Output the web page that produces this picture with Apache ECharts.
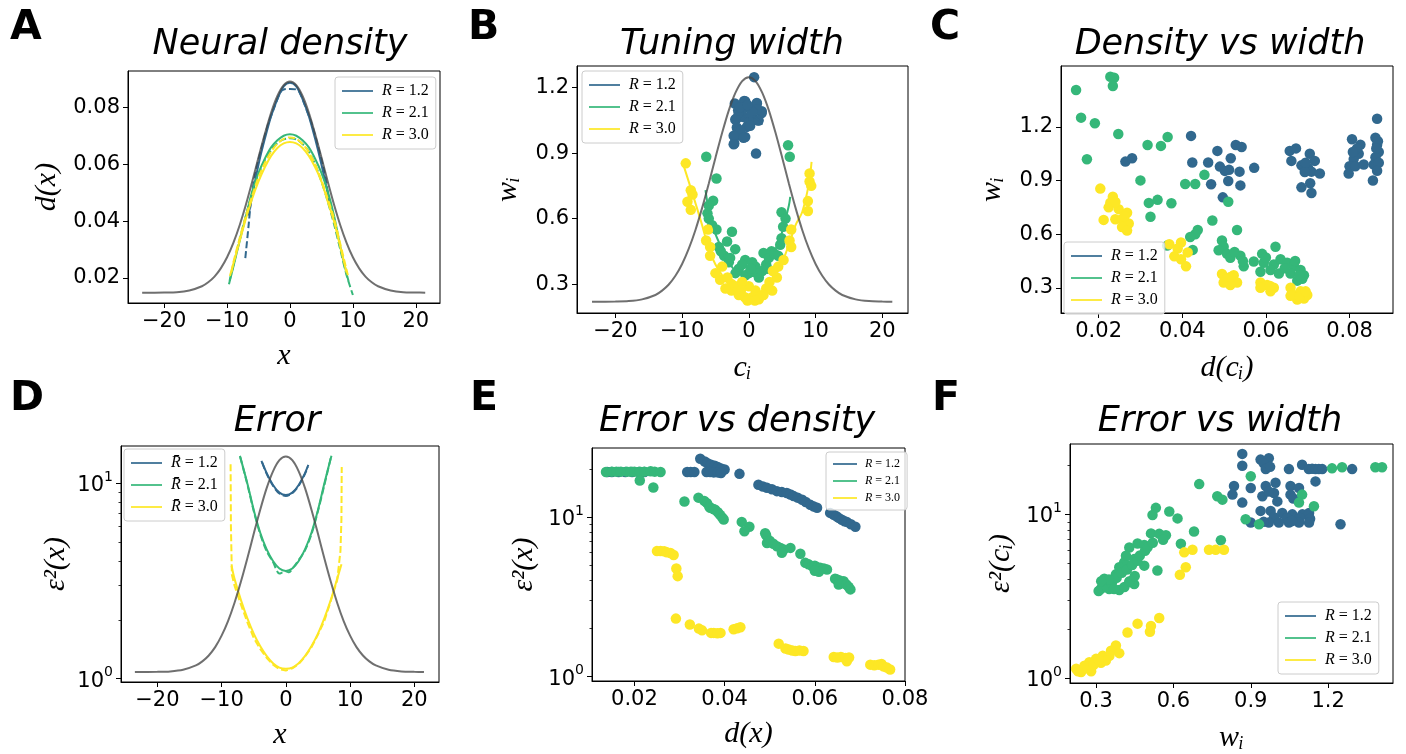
<!DOCTYPE html>
<html><head><meta charset="utf-8">
<script src="https://cdn.jsdelivr.net/npm/echarts@6/dist/echarts.min.js"></script>
<style>html,body{margin:0;padding:0;background:#fff}#c{width:1406px;height:754px}</style>
</head><body><div id="c"></div>
<script>
// ---------------- data ----------------
const rValues = ['1.2', '2.1', '3.0'];
const colors = ['#31688e', '#35b779', '#fde725'];

const priorX = [-23.5,-20,-18,-16,-14,-13,-12,-11,-10,-9,-8,-7,-6,-5,-4,-3,-2,-1,0,1,2,3,4,5,6,7,8,9,10,11,12,13,14,16,18,20,21.5];
const priorA = [0.0148,0.0149,0.0150,0.0156,0.0171,0.0185,0.0205,0.0234,0.0273,0.0324,0.0386,0.0459,0.0540,0.0625,0.0707,0.0782,0.0841,0.0879,0.0892,0.0879,0.0841,0.0782,0.0707,0.0625,0.0540,0.0459,0.0386,0.0324,0.0273,0.0234,0.0205,0.0185,0.0171,0.0156,0.0150,0.0149,0.0148];
const priorB = [0.219,0.220,0.222,0.230,0.250,0.270,0.298,0.338,0.392,0.462,0.548,0.649,0.761,0.879,0.993,1.096,1.177,1.230,1.248,1.230,1.177,1.096,0.993,0.879,0.761,0.649,0.548,0.462,0.392,0.338,0.298,0.270,0.250,0.230,0.222,0.220,0.219];
const priorD = [1.081,1.084,1.090,1.111,1.169,1.226,1.315,1.45,1.66,1.97,2.44,3.13,4.12,5.51,7.30,9.41,11.50,13.11,13.71,13.11,11.50,9.41,7.30,5.51,4.12,3.13,2.44,1.97,1.66,1.45,1.315,1.226,1.169,1.111,1.090,1.084,1.081];

// tick labels
const xTicksX = [-20,-10,0,10,20];
const yTicksA = [0.02,0.04,0.06,0.08];
const yTicksW = [0.3,0.6,0.9,1.2];
const xTicksC = [0.02,0.04,0.06,0.08];
const xTicksE = [0.02,0.04,0.06,0.08];
const xTicksF = [0.3,0.6,0.9,1.2];
const logTicks = [1,10];
const logMinor = [2,3,4,5,6,7,8,9,20];

// Panel A: neural density (solid = simulation, dashed = theory)
const aSolid12 = [[-6.6,0.042],[-6,0.049],[-5,0.060],[-4,0.069],[-3,0.077],[-2,0.083],[-1,0.0875],[0,0.0888],[1,0.0875],[2,0.083],[3,0.077],[4,0.069],[5,0.060],[6,0.050],[6.5,0.045]];
const aDash12 = [[-7.1,0.027],[-6.6,0.038],[-6.2,0.047],[-5.5,0.057],[-4.5,0.066],[-3.5,0.074],[-2.5,0.080],[-1.5,0.0855],[-1,0.0864],[0,0.0866],[1,0.0864],[1.5,0.0855],[2.5,0.080],[3.5,0.074],[4.5,0.066],[5.5,0.057],[6.2,0.047]];
const aSolid21 = [[-9.7,0.0178],[-9,0.024],[-8,0.033],[-7,0.0418],[-6,0.0505],[-5,0.057],[-4,0.062],[-3,0.066],[-2,0.0685],[-1,0.0701],[0,0.0706],[1,0.0701],[2,0.0685],[3,0.066],[4,0.062],[5,0.057],[6,0.0505],[7,0.042],[8,0.031],[9,0.0215],[9.3,0.019]];
const aDash21 = [[-9.6,0.019],[-9,0.0245],[-8,0.0335],[-7,0.042],[-6,0.050],[-5,0.0565],[-4,0.0615],[-3,0.065],[-2,0.0675],[-1,0.0688],[0,0.0692],[1,0.0688],[2,0.0672],[3,0.0645],[4,0.060],[5,0.054],[6,0.047],[7,0.039],[8,0.030],[9,0.021],[10,0.014]];
const aSolid30 = [[-9.55,0.0207],[-9,0.025],[-8,0.033],[-7,0.041],[-6,0.048],[-5,0.054],[-4,0.059],[-3,0.063],[-2,0.0658],[-1,0.0674],[0,0.0679],[1,0.0674],[2,0.0658],[3,0.063],[4,0.059],[5,0.054],[6,0.047],[7,0.040],[8,0.031],[9,0.0219]];
const aDash30 = [[-9.3,0.022],[-9,0.0255],[-8,0.034],[-7,0.042],[-6,0.049],[-5,0.0555],[-4,0.0605],[-3,0.0645],[-2,0.0673],[-1,0.069],[0,0.0695],[1,0.069],[2,0.0672],[3,0.0643],[4,0.060],[5,0.0545],[6,0.048],[7,0.041],[8,0.032],[9.2,0.021]];

// Panel B: tuning width vs centre
const bLine12 = [[-2.3,1.0],[-1.5,1.04],[-0.5,1.07],[0.5,1.07],[1.5,1.05],[2.0,1.03]];
const bLine21 = [[-6.5,0.73],[-6,0.64],[-5,0.53],[-4,0.46],[-3,0.40],[-2,0.36],[-1,0.34],[0,0.335],[1,0.34],[2,0.36],[3,0.40],[4,0.46],[5,0.54],[6,0.66],[6.2,0.70]];
const bLine30 = [[-9.9,0.855],[-8.5,0.72],[-7,0.57],[-6,0.46],[-5,0.39],[-4,0.34],[-3,0.30],[-2,0.27],[-1,0.255],[0,0.25],[1,0.255],[2,0.27],[3,0.30],[4,0.34],[5,0.40],[6,0.48],[7,0.57],[8,0.63],[9,0.76],[9.4,0.86]];
const bDots12 = [[0.79,1.248],[1.08,0.898],[-2.18,0.944],[-2.1,0.974],[-0.55,0.974],[-1.8,1.017],[-0.3,1.02],[-1.9,1.058],[-0.8,1.065],[0.44,1.072],[1.43,1.049],[1.93,1.092],[1.2,1.127],[-0.7,1.139],[-2.1,1.127],[-1.6,1.096],[0.1,1.104],[-1.0,1.10],[0.0,1.04],[-1.3,1.005],[-0.55,1.138],[1.2,1.13],[1.93,1.084],[-1.53,1.084],[0.7,1.054],[-2.03,1.054],[0.2,1.025],[-0.8,0.97],[-2.27,0.98],[-2.27,0.94],[1.2,1.10],[-1.3,1.11],[1.43,1.05],[0.5,1.09],[-0.2,1.12]];
const bDots21 = [[-6.38,0.883],[5.88,0.936],[6.13,0.883],[-4.85,0.784],[-5.35,0.682],[-6.2,0.624],[-6.0,0.60],[4.9,0.629],[5.14,0.563],[-2.53,0.540],[-4.85,0.55],[4.9,0.51],[4.7,0.48],[-3.26,0.495],[-4.5,0.47],[-2.04,0.46],[2.2,0.442],[3.4,0.45],[4.4,0.43],[-3.7,0.43],[-0.55,0.41],[1.0,0.38],[2.6,0.39],[-1.5,0.37],[0,0.35],[1.5,0.33],[-2,0.35],[-3,0.40],[-1,0.39],[0.5,0.40],[2,0.36],[3,0.42],[-4.2,0.45],[-5.5,0.57],[-6,0.66],[5.5,0.60],[3.8,0.44],[-2.8,0.42],[-0.5,0.34],[1.2,0.35],[2.8,0.37],[0.3,0.37]];
const bDots30 = [[-9.45,0.853],[-8.7,0.73],[-8.45,0.71],[-9.2,0.677],[-8.7,0.64],[9.1,0.807],[9.1,0.77],[9.35,0.75],[8.85,0.68],[8.85,0.635],[-6.1,0.55],[-6.4,0.50],[-5.8,0.47],[-5.8,0.43],[6.35,0.55],[6.1,0.50],[6.35,0.47],[-4.0,0.38],[-4.3,0.32],[-2.6,0.30],[4.4,0.38],[4.2,0.33],[2.6,0.28],[-2.6,0.27],[-1.5,0.25],[-0.6,0.24],[0.5,0.24],[1.5,0.23],[-2,0.29],[0,0.29],[1,0.27],[-1,0.31],[3.1,0.31],[3.6,0.36],[-5,0.35],[-3.2,0.33],[-0.2,0.225],[0.9,0.225],[2.2,0.25],[-3.5,0.28],[5.2,0.41],[-1.2,0.27],[3.5,0.27]];

// Panel C: density vs width
const cDots12 = [[0.0264,1.006],[0.0280,1.025],[0.0421,1.150],[0.0424,1.001],[0.0462,1.001],[0.0484,1.066],[0.0516,1.025],[0.0528,1.099],[0.0542,1.088],[0.0490,0.978],[0.0502,0.954],[0.0537,0.950],[0.0510,0.898],[0.0469,0.879],[0.0539,0.873],[0.0497,0.806],[0.0572,0.971],[0.0657,1.066],[0.0672,1.080],[0.0661,1.010],[0.0685,0.985],[0.0705,1.050],[0.0717,1.010],[0.0701,0.970],[0.0709,0.950],[0.0729,0.940],[0.0685,0.862],[0.0706,0.885],[0.0709,0.830],[0.0693,0.948],[0.0806,1.131],[0.0826,1.100],[0.0822,1.050],[0.0810,1.020],[0.0800,0.980],[0.0798,0.940],[0.0814,0.980],[0.0834,0.990],[0.0866,1.246],[0.0862,1.140],[0.0866,1.100],[0.0870,1.060],[0.0862,1.030],[0.0858,0.990],[0.0870,1.000],[0.0856,0.900],[0.0866,0.955],[0.0818,1.08],[0.0808,1.06],[0.0868,1.12],[0.0864,1.08],[0.0695,1.00],[0.0512,0.96]];
const cDots21 = [[0.0146,1.407],[0.0228,1.481],[0.0237,1.475],[0.0234,1.429],[0.0158,1.252],[0.0191,1.221],[0.0247,1.161],[0.0172,1.019],[0.0317,1.099],[0.0349,1.094],[0.0365,1.144],[0.0300,0.901],[0.0320,0.775],[0.0341,0.792],[0.0374,0.773],[0.0324,0.698],[0.0407,0.881],[0.0431,0.881],[0.0453,0.932],[0.0510,0.781],[0.0472,0.677],[0.0531,0.623],[0.0437,0.623],[0.0431,0.600],[0.0419,0.584],[0.0364,0.536],[0.0425,0.512],[0.0495,0.565],[0.0499,0.530],[0.0487,0.510],[0.0507,0.490],[0.0515,0.468],[0.0539,0.480],[0.0547,0.420],[0.0571,0.447],[0.0591,0.490],[0.0595,0.440],[0.0587,0.390],[0.0623,0.530],[0.0619,0.430],[0.0635,0.460],[0.0651,0.440],[0.0667,0.420],[0.0659,0.380],[0.0683,0.400],[0.0687,0.350],[0.0675,0.340],[0.0631,0.380],[0.0611,0.400],[0.0691,0.370],[0.0525,0.50],[0.0545,0.45],[0.0600,0.47],[0.0645,0.41],[0.0670,0.45],[0.0680,0.37]];
const cDots30 = [[0.0204,0.855],[0.0234,0.810],[0.0228,0.776],[0.0224,0.750],[0.0248,0.740],[0.0268,0.720],[0.0240,0.684],[0.0212,0.680],[0.0256,0.684],[0.0272,0.660],[0.0256,0.640],[0.0268,0.620],[0.0369,0.544],[0.0397,0.553],[0.0389,0.520],[0.0413,0.498],[0.0381,0.476],[0.0397,0.460],[0.0409,0.420],[0.0495,0.377],[0.0507,0.350],[0.0523,0.370],[0.0499,0.330],[0.0531,0.330],[0.0515,0.315],[0.0587,0.330],[0.0603,0.315],[0.0619,0.300],[0.0587,0.300],[0.0611,0.280],[0.0659,0.300],[0.0667,0.260],[0.0683,0.280],[0.0691,0.240],[0.0675,0.235],[0.0659,0.255],[0.0699,0.260],[0.0240,0.78],[0.0262,0.70],[0.0515,0.36],[0.0610,0.31],[0.0680,0.25],[0.0695,0.28]];

// Panel D: error along x
const dSolid12 = [[-3.8,13.0],[-3,11.3],[-2,9.8],[-1,8.95],[0,8.7],[1,8.95],[2,9.8],[3,11.3],[3.5,12.4]];
const dDash12 = [[-3.7,12.8],[-3,11.2],[-2,9.7],[-1,8.85],[0,8.6],[1,8.9],[2,9.7],[3,11.2],[3.4,12.1]];
const dSolid21 = [[-7.15,13.8],[-6,10.0],[-5,7.3],[-4,5.6],[-3,4.6],[-2,4.0],[-1,3.66],[0,3.56],[1,3.66],[2,4.0],[3,4.6],[4,5.6],[5,7.3],[6,10.0],[7.1,13.8]];
const dDash21 = [[-7.1,13.6],[-6,9.9],[-5,7.2],[-4,5.5],[-3,4.5],[-2,3.95],[-1,3.45],[-0.5,3.5],[0,3.55],[0.5,3.5],[1,3.65],[2,4.05],[3,4.55],[4,5.5],[5,7.2],[6,9.8],[7,13.5]];
const dSolid30 = [[-8.45,3.78],[-8,3.25],[-7,2.53],[-6,2.04],[-5,1.70],[-4,1.47],[-3,1.31],[-2,1.20],[-1,1.14],[0,1.125],[1,1.14],[2,1.20],[3,1.31],[4,1.47],[5,1.70],[6,2.04],[7,2.53],[8,3.25],[8.66,3.85]];
const dDash30 = [[-8.6,12.5],[-8.55,6.0],[-8.4,3.4],[-8,3.0],[-7,2.4],[-6,1.95],[-5,1.62],[-4,1.42],[-3,1.28],[-2,1.18],[-1,1.12],[0,1.10],[1,1.13],[2,1.19],[3,1.30],[4,1.45],[5,1.68],[6,1.98],[7,2.5],[8,3.2],[8.5,4.5],[8.65,6.5],[8.7,12.1]];

// Panel E: error vs density
const eDots12 = [[0.0140,19.1],[0.0150,19.1],[0.0165,19.1],[0.0180,19.1],[0.0195,19.1],[0.0210,19.1],[0.0222,19.1],[0.0317,19.1],[0.0325,19.1],[0.0333,19.1],[0.0346,23.1],[0.0356,22.2],[0.0362,21.7],[0.0370,21.2],[0.0378,20.9],[0.0385,20.5],[0.0392,20.1],[0.0400,19.8],[0.0360,19.1],[0.0368,19.1],[0.0376,19.0],[0.0385,19.0],[0.0392,18.8],[0.0433,18.6],[0.0475,15.9],[0.0485,15.5],[0.0494,15.2],[0.0505,14.9],[0.0516,14.5],[0.0527,14.3],[0.0538,14.1],[0.0546,13.8],[0.0553,13.5],[0.0562,13.2],[0.0572,12.8],[0.0580,12.4],[0.0590,11.9],[0.0598,11.6],[0.0605,11.4],[0.0634,10.6],[0.0642,10.3],[0.0648,10.1],[0.0653,9.86],[0.0660,9.6],[0.0666,9.4],[0.0671,9.31],[0.0680,9.0],[0.0690,8.67]];
const eDots21 = [[0.0137,19.1],[0.0150,19.2],[0.0160,19.2],[0.0170,19.2],[0.0183,19.2],[0.0192,19.2],[0.0200,19.2],[0.0212,19.2],[0.0222,19.2],[0.0236,19.3],[0.0245,19.2],[0.0258,19.1],[0.0212,16.9],[0.0242,15.3],[0.0311,12.5],[0.0342,13.2],[0.0355,12.6],[0.0361,12.2],[0.0366,11.6],[0.0368,11.4],[0.0375,11.2],[0.0379,11.1],[0.0385,10.7],[0.0390,10.3],[0.0395,9.9],[0.0398,9.63],[0.0438,9.31],[0.0455,8.67],[0.0444,8.14],[0.0490,7.9],[0.0492,7.67],[0.0494,6.87],[0.0500,7.1],[0.0508,6.8],[0.0516,6.55],[0.0524,6.4],[0.0531,6.25],[0.0527,5.96],[0.0546,6.4],[0.0568,5.88],[0.0579,5.16],[0.0586,5.05],[0.0594,4.92],[0.0600,4.95],[0.0605,4.85],[0.0612,4.80],[0.0620,4.75],[0.0627,4.69],[0.0609,4.53],[0.0600,4.6],[0.0645,4.1],[0.0649,4.06],[0.0655,4.0],[0.0664,3.96],[0.0653,3.78],[0.0660,3.85],[0.0670,3.78],[0.0675,3.65],[0.0679,3.52]];
const eDots30 = [[0.0250,6.11],[0.0258,6.11],[0.0266,6.1],[0.0272,6.0],[0.0280,5.95],[0.0287,5.77],[0.0293,4.76],[0.0296,4.26],[0.0292,2.31],[0.0323,2.12],[0.0343,2.00],[0.0350,1.95],[0.0370,1.88],[0.0376,1.88],[0.0384,1.87],[0.0391,1.88],[0.0420,1.98],[0.0428,2.01],[0.0435,2.04],[0.0520,1.61],[0.0535,1.50],[0.0542,1.48],[0.0550,1.46],[0.0557,1.45],[0.0566,1.46],[0.0575,1.45],[0.0642,1.33],[0.0650,1.32],[0.0658,1.33],[0.0668,1.31],[0.0671,1.25],[0.0676,1.32],[0.0723,1.19],[0.0732,1.18],[0.0741,1.19],[0.0748,1.2],[0.0752,1.16],[0.0760,1.14],[0.0767,1.11]];

// Panel F: error vs width
const fDots12 = [[0.867,23.4],[0.867,19.8],[0.938,21.6],[0.970,22.0],[0.950,20.5],[0.958,18.9],[0.975,19.5],[1.048,18.9],[1.099,20.1],[1.125,18.9],[1.138,19.0],[1.151,18.9],[1.164,18.9],[1.177,18.9],[1.293,18.9],[0.835,14.9],[0.829,13.2],[0.867,11.8],[0.900,14.5],[0.958,14.9],[0.996,15.6],[0.990,13.5],[0.945,12.9],[1.003,12.0],[1.054,14.9],[1.087,14.5],[1.054,13.2],[1.151,15.9],[0.970,13.8],[1.065,12.5],[0.938,10.5],[0.977,10.5],[1.022,10.2],[1.061,10.0],[1.100,10.0],[1.126,10.2],[0.990,9.6],[1.040,9.5],[1.090,9.5],[1.130,9.4],[0.900,8.91],[0.970,8.91],[1.009,8.91],[1.048,8.91],[1.087,8.91],[1.126,8.91],[0.950,9.0],[1.060,9.1],[1.248,8.7]];
const fDots21 = [[1.215,19.1],[1.254,19.4],[1.383,19.4],[1.409,19.4],[0.900,17.1],[0.700,15.3],[0.770,12.9],[0.790,12.3],[1.099,13.2],[1.087,11.8],[1.145,11.2],[0.880,9.33],[0.932,8.69],[0.532,10.96],[0.519,9.9],[0.584,10.4],[0.616,9.45],[0.680,7.85],[0.629,6.61],[0.784,6.95],[0.513,7.65],[0.545,7.6],[0.571,7.46],[0.461,6.64],[0.429,6.28],[0.487,6.5],[0.538,4.54],[0.487,4.86],[0.448,5.33],[0.409,5.09],[0.390,4.75],[0.377,4.3],[0.416,5.58],[0.332,4.04],[0.319,3.51],[0.351,3.5],[0.390,3.45],[0.429,3.86],[0.448,3.75],[0.364,3.9],[0.340,3.7],[0.310,3.4],[0.34,3.6],[0.36,3.8],[0.38,4.1],[0.40,4.4],[0.42,4.6],[0.44,4.9],[0.46,5.2],[0.47,5.6],[0.49,6.0],[0.50,6.3],[0.52,6.7],[0.56,7.0],[0.35,4.0],[0.37,3.5],[0.41,3.6],[0.43,3.9],[0.45,4.2],[0.32,3.9]];
const fDots30 = [[0.642,5.86],[0.674,6.08],[0.738,6.08],[0.764,6.08],[0.796,6.08],[0.648,4.75],[0.625,4.27],[0.545,2.33],[0.513,2.08],[0.461,2.15],[0.422,1.90],[0.509,1.92],[0.377,1.58],[0.358,1.47],[0.326,1.37],[0.300,1.31],[0.274,1.25],[0.255,1.19],[0.223,1.14],[0.242,1.09],[0.281,1.10],[0.319,1.24],[0.352,1.37],[0.390,1.42],[0.338,1.28],[0.265,1.15],[0.290,1.2],[0.310,1.3],[0.245,1.12],[0.230,1.1]];

// ---------------- chart ----------------
const grids = [
  {left:128, top:71, width:312, height:232},
  {left:577, top:66, width:331, height:247},
  {left:1061, top:66, width:332, height:247},
  {left:121, top:446, width:318, height:236},
  {left:592, top:448, width:313, height:233},
  {left:1070, top:444, width:323, height:241}
].map(g => Object.assign({show:true, borderColor:'#000', borderWidth:1, backgroundColor:'transparent', containLabel:false}, g));

const tickFont = {fontFamily:'DejaVu Sans', fontSize:21, color:'#000'};
const nameFont = {fontFamily:'Liberation Serif', fontStyle:'italic', fontSize:30, color:'#000'};
const num = d => v => (v < 0 ? '\u2212' : '') + Math.abs(v).toFixed(d);
const logFmt = v => '{n|10}{s|' + Math.round(Math.log10(v)) + '}';
const logRich = {n:{fontFamily:'DejaVu Sans', fontSize:21, lineHeight:26, verticalAlign:'bottom', color:'#000'},
                 s:{fontFamily:'DejaVu Sans', fontSize:14, lineHeight:14, verticalAlign:'top', color:'#000'}};

function axis(dir, gi, type, min, max, ticks, fmt, name, gap, rich) {
  const a = {type, gridIndex:gi, min, max, position: dir === 'x' ? 'bottom' : 'left',
    axisLine:{show:true, onZero:false, lineStyle:{color:'#000', width:1}},
    axisTick:{show:true, customValues:ticks, length:5, lineStyle:{color:'#000', width:1}},
    axisLabel:Object.assign({customValues:ticks, formatter:fmt, margin:8, rich}, tickFont),
    splitLine:{show:false}, minorTick:{show:false},
    name, nameLocation:'middle', nameGap:gap, nameTextStyle:nameFont};
  if (dir === 'y') a.nameRotate = 90;
  if (type === 'log') a.logBase = 10;
  return a;
}
function minorAxis(gi, min, max) {
  return {type:'log', logBase:10, gridIndex:gi, min, max, position:'left',
    axisLine:{show:false, onZero:false}, axisLabel:{show:false}, splitLine:{show:false},
    axisTick:{show:true, customValues:logMinor, length:2.5, lineStyle:{color:'#000', width:0.8}}};
}

const xAxis = [
  axis('x',0,'value',-25.75,23.85,xTicksX,num(0),'x',38),
  axis('x',1,'value',-25.75,23.85,xTicksX,num(0),'c\u1d62',40),
  axis('x',2,'value',0.011,0.0904,xTicksC,num(2),'d(c\u1d62)',40),
  axis('x',3,'value',-25.66,23.84,xTicksX,num(0),'x',38),
  axis('x',4,'value',0.0106,0.08,xTicksE,num(2),'d(x)',38),
  axis('x',5,'value',0.199,1.4515,xTicksF,num(1),'w\u1d62',40)
];
const yAxis = [
  axis('y',0,'value',0.0112,0.0929,yTicksA,num(2),'d(x)',66),
  axis('y',1,'value',0.1675,1.299,yTicksW,num(1),'w\u1d62',54),
  axis('y',2,'value',0.159,1.541,yTicksW,num(1),'w\u1d62',54),
  axis('y',3,'log',0.962,15.5,logTicks,logFmt,'\u03b5\u00b2(x)',50,logRich),
  axis('y',4,'log',0.94,27.0,logTicks,logFmt,'\u03b5\u00b2(x)',53,logRich),
  axis('y',5,'log',0.933,26.9,logTicks,logFmt,'\u03b5\u00b2(c\u1d62)',54,logRich),
  minorAxis(3,0.962,15.5),
  minorAxis(4,0.94,27.0),
  minorAxis(5,0.933,26.9)
];

const base = {silent:true, animation:false};
function line(name, data, gi, color, dashed, smooth) {
  return Object.assign({type:'line', name, data, xAxisIndex:gi, yAxisIndex:gi, showSymbol:false, symbol:'none',
    smooth: smooth === undefined ? 0.3 : smooth,
    lineStyle:{color, width:2, type: dashed ? [7,3] : 'solid'}, itemStyle:{color}}, base);
}
function dots(name, data, gi, color) {
  return Object.assign({type:'scatter', name, data, xAxisIndex:gi, yAxisIndex:gi, symbolSize:10.5,
    itemStyle:{color, opacity:1}}, base);
}
function prior(gi, vals) {
  return line('prior' + gi, priorX.map((x, i) => [x, vals[i]]), gi, 'rgba(70,70,70,0.78)', false, 0.3);
}

const series = [];
// A
[[aSolid12,aDash12],[aSolid21,aDash21],[aSolid30,aDash30]].forEach((p, k) => {
  series.push(line('A|' + rValues[k], p[0], 0, colors[k], false));
  series.push(line('Ad|' + rValues[k], p[1], 0, colors[k], true));
});
series.push(prior(0, priorA));
// B
[bDots12, bDots21, bDots30].forEach((d, k) => series.push(dots('B|' + rValues[k], d, 1, colors[k])));
[bLine12, bLine21, bLine30].forEach((d, k) => series.push(line('Bl|' + rValues[k], d, 1, colors[k], false)));
series.push(prior(1, priorB));
// C
[cDots12, cDots21, cDots30].forEach((d, k) => series.push(dots('C|' + rValues[k], d, 2, colors[k])));
// D
[[dSolid12,dDash12],[dSolid21,dDash21],[dSolid30,dDash30]].forEach((p, k) => {
  series.push(line('D|' + rValues[k], p[0], 3, colors[k], false));
  series.push(line('Dd|' + rValues[k], p[1], 3, colors[k], true, k === 2 ? false : 0.3));
});
series.push(prior(3, priorD));
// E
[eDots12, eDots21, eDots30].forEach((d, k) => series.push(dots('E|' + rValues[k], d, 4, colors[k])));
// F
[fDots12, fDots21, fDots30].forEach((d, k) => series.push(dots('F|' + rValues[k], d, 5, colors[k])));

function legend(p, left, top, size, w, gap, bar) {
  return {data: rValues.map(r => p + '|' + r), left, top, orient:'vertical', icon:'rect',
    itemWidth:w, itemHeight:2, itemGap:gap, selectedMode:false,
    itemStyle:{opacity:0.85},
    formatter: n => ' {i|' + (bar ? 'R\u0304' : 'R') + '} = ' + n.split('|')[1],
    textStyle:{fontFamily:'Liberation Serif', fontSize:size, color:'#000', lineHeight:size,
      rich:{i:{fontFamily:'Liberation Serif', fontStyle:'italic', fontSize:size, color:'#000'}}},
    backgroundColor:'rgba(255,255,255,0.8)', borderColor:'#cccccc', borderWidth:1, borderRadius:3,
    padding:[6,7,6,7], z:10};
}
const legends = [
  legend('A', 335, 77, 16, 31, 6),
  legend('B', 582, 71, 16, 31, 6),
  legend('C', 1064, 242, 16, 31, 6),
  legend('D', 124, 449, 16, 31, 6, true),
  legend('E', 826, 452, 12, 24, 5),
  legend('F', 1278, 602, 16, 31, 6)
];

const titleFont = {fontFamily:'DejaVu Sans', fontStyle:'italic', fontWeight:'normal', fontSize:35, color:'#000'};
const titles = [
  ['Neural density', 280, 27], ['Tuning width', 732, 27], ['Density vs width', 1220, 27],
  ['Error', 277, 404], ['Error vs density', 737, 404], ['Error vs width', 1220, 404]
].map(t => ({text:t[0], left:t[1], top:t[2], textAlign:'center', padding:0, textStyle:titleFont}));

const letters = [['A',10,8],['B',468,8],['C',930,8],['D',10,379],['E',470,379],['F',932,379]].map(l => ({
  type:'text', x:l[1], y:l[2], style:{text:l[0], font:'bold 41px "DejaVu Sans"', fill:'#000', textVerticalAlign:'top'}}));

const chart = echarts.init(document.getElementById('c'), null, {renderer:'canvas'});
chart.setOption({animation:false, backgroundColor:'#fff', title:titles, grid:grids, xAxis, yAxis, legend:legends, series, graphic:letters});
</script></body></html>
